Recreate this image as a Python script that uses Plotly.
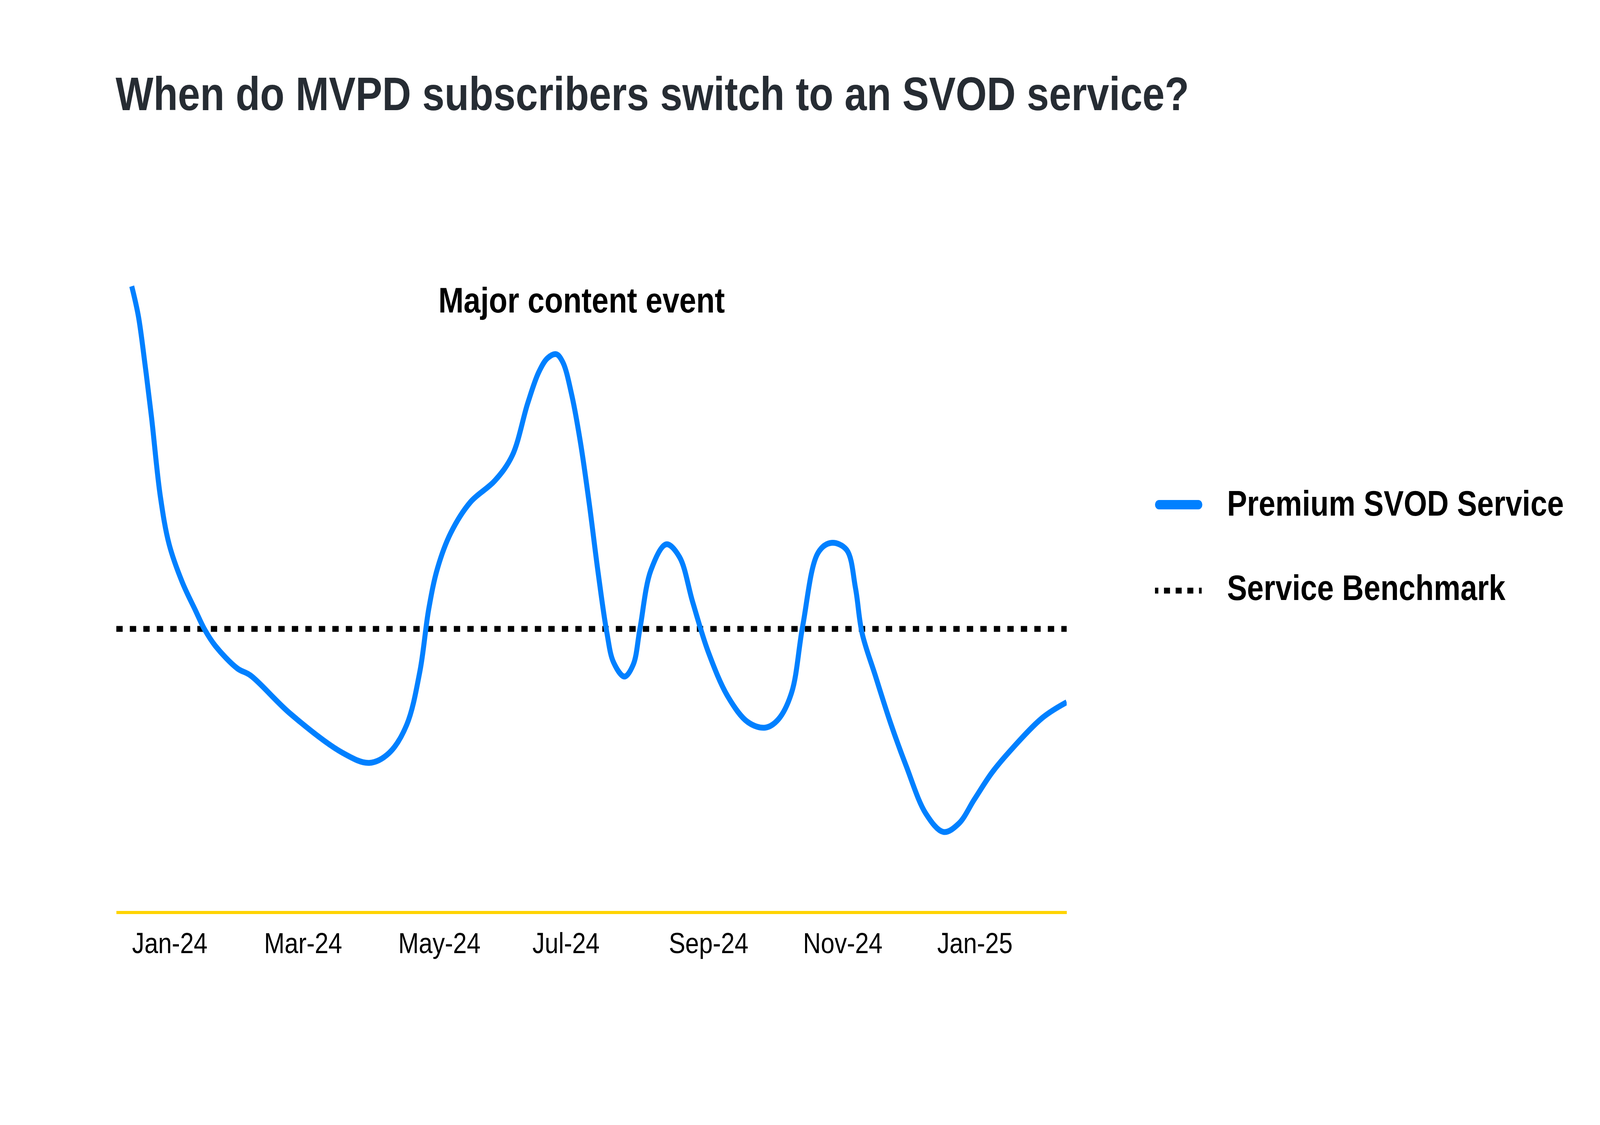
import plotly.graph_objects as go

# ---------------- data ----------------
DATES = [
    "2024-01-01", "2024-01-04", "2024-01-07", "2024-01-10", "2024-01-14",
    "2024-01-18", "2024-01-24", "2024-01-30", "2024-02-03", "2024-02-08",
    "2024-02-18", "2024-02-24", "2024-03-13", "2024-04-06", "2024-04-18",
    "2024-04-27", "2024-05-05", "2024-05-11", "2024-05-15", "2024-05-19",
    "2024-05-25", "2024-06-03", "2024-06-14", "2024-06-22", "2024-06-29",
    "2024-07-04", "2024-07-08", "2024-07-12", "2024-07-15", "2024-07-19",
    "2024-07-23", "2024-07-27", "2024-07-31", "2024-08-04", "2024-08-07",
    "2024-08-12", "2024-08-16", "2024-08-19", "2024-08-24", "2024-08-31",
    "2024-09-06", "2024-09-12", "2024-09-19", "2024-09-28", "2024-10-07",
    "2024-10-15", "2024-10-21", "2024-10-27", "2024-11-01", "2024-11-08",
    "2024-11-14", "2024-11-21", "2024-11-25", "2024-11-28", "2024-12-04",
    "2024-12-11", "2024-12-18", "2024-12-27", "2025-01-04", "2025-01-11",
    "2025-01-18", "2025-01-26", "2025-02-03", "2025-02-18", "2025-03-01",
]
VALUES = [
    221.5, 211, 194, 175, 147,
    130, 116.5, 106.5, 100, 94,
    86, 83.5, 70, 56, 52.5,
    56, 66, 85, 107, 121.5,
    134, 145, 152.5, 161.5, 180,
    191, 196, 197.4, 194.5, 183,
    166, 144.3, 120, 98.6, 88.2,
    83.1, 87.4, 100, 120.8, 130,
    125.5, 109.5, 92, 76, 67,
    65, 68, 77.5, 101, 127,
    130.5, 128, 114.5, 98.5, 83.5,
    66.5, 51.5, 34.5, 28, 31,
    39.5, 49, 56.5, 68.5, 74,
]
BENCHMARK = 100
SERIES_NAMES = ["Premium SVOD Service", "Service Benchmark"]
TICK_DATES = ["2024-01-01", "2024-03-01", "2024-05-01", "2024-07-01",
              "2024-09-01", "2024-11-01", "2025-01-01"]
TICK_LABELS = ["Jan-24", "Mar-24", "May-24", "Jul-24", "Sep-24", "Nov-24", "Jan-25"]
TITLE = "When do MVPD subscribers switch to an SVOD service?"
EVENT_LABEL = "Major content event"
EVENT_DATE = "2024-07-23 12:00"
EVENT_Y = 216.5
X_RANGE = ["2023-12-25", "2025-03-01"]
Y_RANGE = [0, 250]

# ---------------- layout constants ----------------
W, H = 4800, 2880
L, R, T, B = 349, 1600, 527, 548
PW = W - L - R
PH = H - T - B


def px(x):
    """page x pixel -> paper coordinate"""
    return (x - L) / PW


def py(y):
    """page y pixel -> paper coordinate"""
    return (H - B - y) / PH


BLUE = "#0080FF"
YELLOW = "#FFD400"
FONT = "Liberation Sans, Arial, sans-serif"

fig = go.Figure()
fig.add_trace(go.Scatter(
    x=DATES, y=VALUES, mode="lines", name=SERIES_NAMES[0],
    line=dict(color=BLUE, width=15, shape="spline"),
    showlegend=False, hoverinfo="x+y",
))

shapes = [
    # benchmark line across the plot
    dict(type="line", xref="paper", yref="y", x0=0, x1=1, y0=BENCHMARK, y1=BENCHMARK,
         line=dict(color="black", width=15, dash="19px,21.5px"), layer="below",
         name=SERIES_NAMES[1]),
    # legend glyph: premium line with round caps
    dict(type="line", xref="paper", yref="paper", x0=px(3477), x1=px(3595),
         y0=py(1292), y1=py(1292), line=dict(color=BLUE, width=24)),
    dict(type="circle", xref="paper", yref="paper", xsizemode="pixel", ysizemode="pixel",
         xanchor=px(3477), yanchor=py(1292), x0=-12, x1=12, y0=-12, y1=12,
         fillcolor=BLUE, line=dict(width=0)),
    dict(type="circle", xref="paper", yref="paper", xsizemode="pixel", ysizemode="pixel",
         xanchor=px(3595), yanchor=py(1292), x0=-12, x1=12, y0=-12, y1=12,
         fillcolor=BLUE, line=dict(width=0)),
    # legend glyph: benchmark dotted
    dict(type="line", xref="paper", yref="paper", x0=px(3465), x1=px(3607),
         y0=py(1512), y1=py(1512),
         line=dict(color="black", width=15,
                   dash="10px,17px,18px,17px,18px,17px,18px,17px,8px")),
]

annotations = [
    dict(text=EVENT_LABEL, x=EVENT_DATE, y=EVENT_Y, xref="x", yref="y",
         xanchor="center", yanchor="middle", showarrow=False,
         font=dict(family=FONT, size=91, color="black", weight="bold")),
    dict(text=SERIES_NAMES[0], x=px(3679), y=py(1289), xref="paper", yref="paper",
         xanchor="left", yanchor="middle", showarrow=False,
         font=dict(family=FONT, size=90, color="black", weight="bold")),
    dict(text=SERIES_NAMES[1], x=px(3679), y=py(1505), xref="paper", yref="paper",
         xanchor="left", yanchor="middle", showarrow=False,
         font=dict(family=FONT, size=90, color="black", weight="bold")),
]

fig.update_layout(
    width=W, height=H,
    margin=dict(l=L, r=R, t=T, b=B, pad=0),
    paper_bgcolor="white", plot_bgcolor="white",
    showlegend=False,
    title=dict(text=TITLE, xref="container", x=347 / W, xanchor="left",
               yref="container", y=1 - 240 / H, yanchor="middle",
               font=dict(family=FONT, size=120, color="#262C33", weight="bold")),
    shapes=shapes,
    annotations=annotations,
    xaxis=dict(type="date", range=X_RANGE, tickvals=TICK_DATES, ticktext=TICK_LABELS,
               ticklabelposition="outside right", ticks="", ticklabelshift=-3,
               ticklabelstandoff=11,
               showline=True, linecolor=YELLOW, linewidth=8,
               showgrid=False, zeroline=False,
               tickfont=dict(family=FONT, size=74, color="black")),
    yaxis=dict(range=Y_RANGE, visible=False, showgrid=False, zeroline=False),
)

# fit the fixed-size figure into the browser window (no-op when the window is 4800x2880)
FIT_SCRIPT = """
var gd = document.getElementById('{plot_id}');
document.documentElement.style.margin = '0';
document.body.style.margin = '0';
document.documentElement.style.overflow = 'hidden';
document.body.style.overflow = 'hidden';
var sx = Math.min(1, window.innerWidth / %d);
var sy = Math.min(1, window.innerHeight / %d);
gd.style.transformOrigin = '0 0';
gd.style.transform = 'scale(' + sx + ',' + sy + ')';
""" % (W, H)

fig.write_html("out.html", post_script=FIT_SCRIPT,
               config={"displayModeBar": False})
